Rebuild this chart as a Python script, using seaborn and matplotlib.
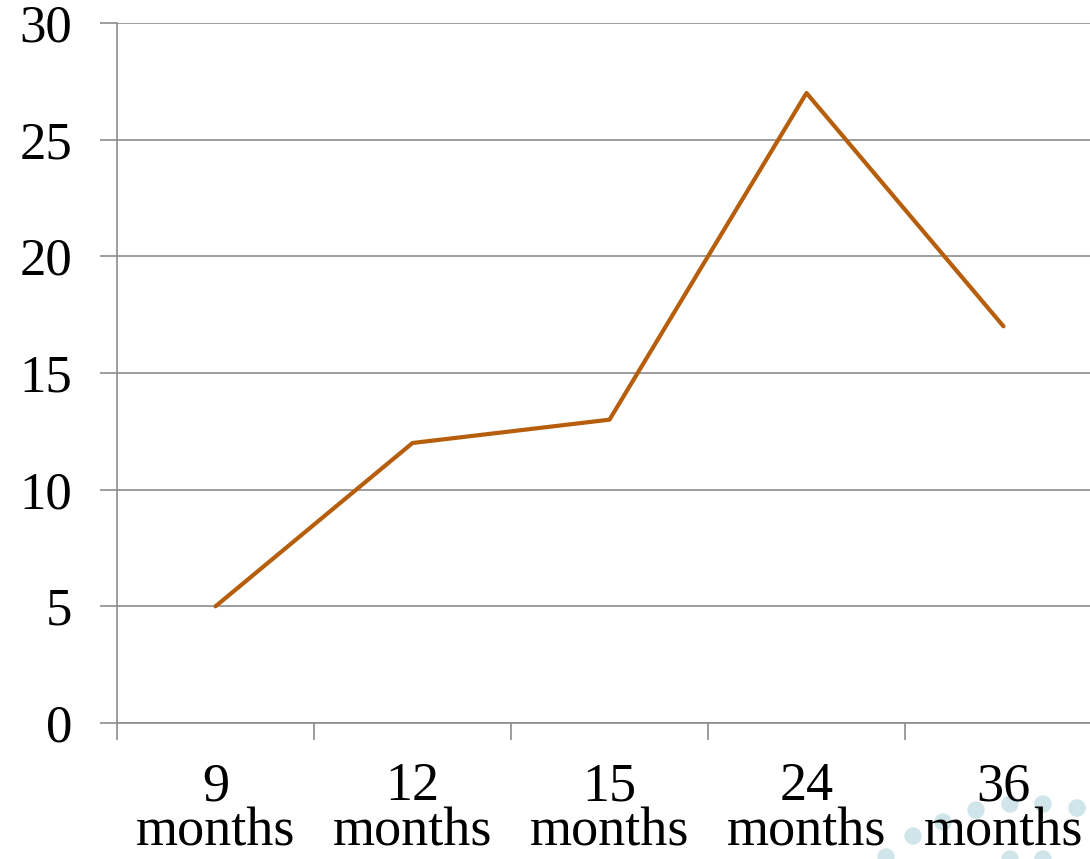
import matplotlib
matplotlib.use("Agg")
import matplotlib.pyplot as plt
import seaborn as sns
import pandas as pd
from matplotlib.patches import Ellipse

categories = ["9\nmonths", "12\nmonths", "15\nmonths", "24\nmonths", "36\nmonths"]
values = [5, 12, 13, 27, 17]
y_ticks = [0, 5, 10, 15, 20, 25, 30]

sns.set_theme(style="white")
plt.rcParams['font.family'] = ['Liberation Serif', 'DejaVu Serif']

df = pd.DataFrame({"cat": categories, "val": values})
df["pos"] = range(len(categories))

fig = plt.figure(figsize=(10.9, 8.59), dpi=100)
ax = fig.add_axes([117/1090, 136/859, 985/1090, 700/859])

sns.lineplot(data=df, x="pos", y="val", ax=ax, color="#B65E0C", linewidth=3.0)

ax.set_xlim(-0.5, len(categories) - 0.5)
ax.set_ylim(0, 30)
ax.set_yticks(y_ticks)
ax.set_yticklabels([str(t) for t in y_ticks], fontsize=38, color="black")
ax.yaxis.grid(True, color="#8c8c8c", linewidth=1.2)
ax.set_axisbelow(True)

ax.set_xticks(range(len(categories)))
ax.set_xticklabels(categories, fontsize=39, linespacing=0.85, color="black")
ax.set_xticks([i - 0.5 for i in range(len(categories) + 1)], minor=True)
ax.tick_params(axis="x", which="major", length=0, pad=28)
ax.tick_params(axis="x", which="minor", length=12, width=1.2, color="#8c8c8c", bottom=True)
ax.tick_params(axis="y", which="major", length=12, width=1.2, color="#8c8c8c", left=True, pad=20)
ax.set_xlabel("")
ax.set_ylabel("")

for s in ["top", "right"]:
    ax.spines[s].set_visible(False)
for s in ["left", "bottom"]:
    ax.spines[s].set_color("#8c8c8c")
    ax.spines[s].set_linewidth(1.2)

# decorative slide dots (background ornament)
dots = [(886, 857), (913, 836), (943, 822), (976, 810), (1010, 804), (1043, 804), (1077, 808),
        (1010, 859), (1043, 859)]
for (px, py) in dots:
    fig.patches.append(Ellipse((px / 1090, 1 - py / 859), 16 / 1090, 16 / 859,
                               transform=fig.transFigure, color="#cfe5ea", zorder=-1))

fig.savefig("out.png", dpi=100)
